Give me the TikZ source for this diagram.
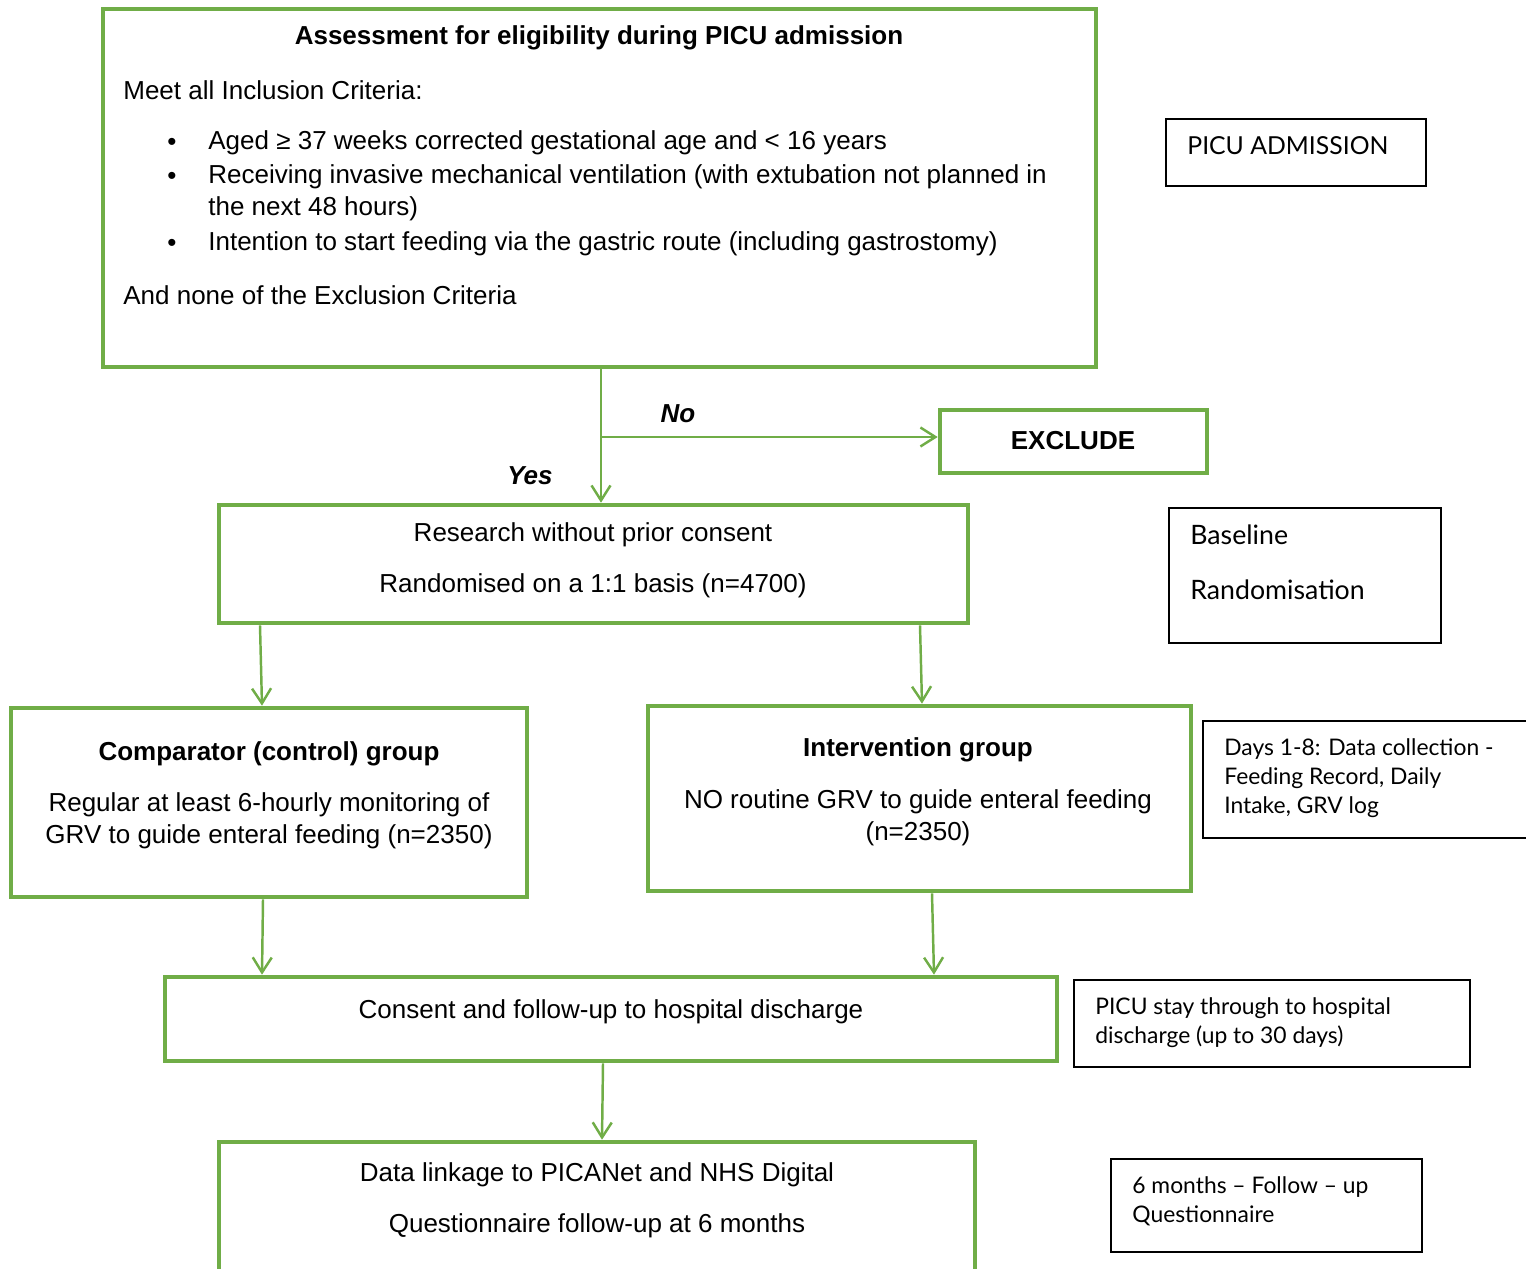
\documentclass[tikz,border=0pt]{standalone}
\usepackage{fontspec}
\setmainfont{Liberation Sans}
\newfontfamily\sidefont{Lato}
\usetikzlibrary{arrows.meta}
\definecolor{pgreen}{HTML}{70AD47}

\begin{document}
\begin{tikzpicture}[x=0.2mm,y=-0.2mm,
	gbox/.style={draw=pgreen,line width=2.6pt,inner sep=0pt},
	kbox/.style={draw=black,line width=1pt,inner sep=0pt},
	garrow/.style={draw=pgreen,line width=1.4pt,-{Straight Barb[length=3mm,width=3.8mm,line width=1.4pt]}},
	txt/.style={inner sep=0pt,font=\fontsize{14.8}{18.2}\selectfont},
	side/.style={inner sep=0pt,anchor=west,align=left,font=\sidefont\fontsize{13}{16.5}\selectfont}]
			\useasboundingbox (0,0) rectangle (1526,1269);
			\clip (0,0) rectangle (1526,1269);
			% boxes
			\node[gbox,minimum width=198.6mm,minimum height=71.6mm] (assess) at (599.5,188) {};
			\node[kbox,minimum width=52mm,minimum height=13.4mm] (admit) at (1296,152.5) {};
			\node[gbox,minimum width=53.4mm,minimum height=12.6mm] (exclude) at (1073.5,441.5) {};
			\node[gbox,minimum width=149.8mm,minimum height=23.6mm] (research) at (593.5,564) {};
			\node[kbox,minimum width=54.4mm,minimum height=27mm] (baseline) at (1305,575.5) {};
			\node[gbox,minimum width=103.2mm,minimum height=37.8mm] (control) at (269,802.5) {};
			\node[gbox,minimum width=108.6mm,minimum height=37mm] (interv) at (919.5,798.5) {};
			\node[kbox,minimum width=67.4mm,minimum height=23.4mm] (days) at (1371.5,779.5) {};
			\node[gbox,minimum width=178.4mm,minimum height=16.8mm] (consent) at (611,1019) {};
			\node[kbox,minimum width=79.2mm,minimum height=17.4mm] (stay) at (1272,1023.5) {};
			\node[gbox,minimum width=151.2mm,minimum height=29.6mm] (linkage) at (597,1216) {};
			\node[kbox,minimum width=62.2mm,minimum height=18.6mm] (sixm) at (1266.5,1205.5) {};
			% texts of the first box
			\node[txt,font=\fontsize{14.8}{18.2}\selectfont\bfseries] (assesstitle) at (599,38) {Assessment for eligibility during PICU admission};
			\node[txt,anchor=west] (incl) at (123,90) {Meet all Inclusion Criteria:};
			\node[txt] (bulleta) at (172,144) {\textbullet};
			\node[txt] (bulletb) at (172,178) {\textbullet};
			\node[txt] (bulletc) at (172,245) {\textbullet};
			\node[txt,anchor=west] (itema) at (208,143) {Aged ≥ 37 weeks corrected gestational age and < 16 years};
			\node[txt,anchor=west] (itemb) at (208,177) {Receiving invasive mechanical ventilation (with extubation not planned in};
			\node[txt,anchor=west] (itembb) at (208,209) {the next 48 hours)};
			\node[txt,anchor=west] (itemc) at (208,244) {Intention to start feeding via the gastric route (including gastrostomy)};
			\node[txt,anchor=west] (excl) at (123,295) {And none of the Exclusion Criteria};
			% other texts
			\node[side,font=\sidefont\fontsize{14.1}{16}\selectfont] (admittxt) at (1187,146) {PICU ADMISSION};
			\node[txt,font=\fontsize{14.8}{18.2}\selectfont\bfseries] (excludetxt) at (1073,441) {EXCLUDE};
			\node[txt,font=\fontsize{14.8}{18.2}\selectfont\bfseries\itshape] (lblno) at (678,414) {No};
			\node[txt,font=\fontsize{14.8}{18.2}\selectfont\bfseries\itshape] (lblyes) at (530,476) {Yes};
			\node[txt] (researcha) at (593,535) {Research without prior consent};
			\node[txt] (researchb) at (593,586) {Randomised on a 1:1 basis (n=4700)};
			\node[side,font=\sidefont\fontsize{15.2}{18}\selectfont] (baselinea) at (1190,535) {Baseline};
			\node[side,font=\sidefont\fontsize{15.2}{18}\selectfont] (baselineb) at (1190,590) {Randomisation};
			\node[txt,font=\fontsize{14.8}{18.2}\selectfont\bfseries] (controltitle) at (269,754) {Comparator (control) group};
			\node[txt,align=center] (controltxt) at (269,821) {Regular at least 6-hourly monitoring of\\GRV to guide enteral feeding (n=2350)};
			\node[txt,font=\fontsize{14.8}{18.2}\selectfont\bfseries] (intervtitle) at (918,750) {Intervention group};
			\node[txt,align=center] (intervtxt) at (918,818) {NO routine GRV to guide enteral feeding\\(n=2350)};
			\node[side] (daystxt) at (1224,778) {Days 1-8: Data collection -\\Feeding Record, Daily\\Intake, GRV log};
			\node[txt] (consenttxt) at (611,1012) {Consent and follow-up to hospital discharge};
			\node[side] (staytxt) at (1095,1022.5) {PICU stay through to hospital\\discharge (up to 30 days)};
			\node[txt] (linkagea) at (597,1175) {Data linkage to PICANet and NHS Digital};
			\node[txt] (linkageb) at (597,1226) {Questionnaire follow-up at 6 months};
			\node[side] (sixmtxt) at (1132,1201) {6 months – Follow – up\\Questionnaire};
			% connectors
			\coordinate (split) at (601,437);
			\draw[garrow] (assess.south -| split) -- (research.north -| split);
			\draw[garrow] (split) -- (exclude.west |- split);
			\draw[garrow] (research.south -| 260,0) -- (control.north -| 262,0);
			\draw[garrow] (research.south -| 920,0) -- (interv.north -| 922,0);
			\draw[garrow] (control.south -| 263,0) -- (consent.north -| 262,0);
			\draw[garrow] (interv.south -| 932,0) -- (consent.north -| 934,0);
			\draw[garrow] (consent.south -| 603,0) -- (linkage.north -| 602,0);
\end{tikzpicture}
\end{document}
